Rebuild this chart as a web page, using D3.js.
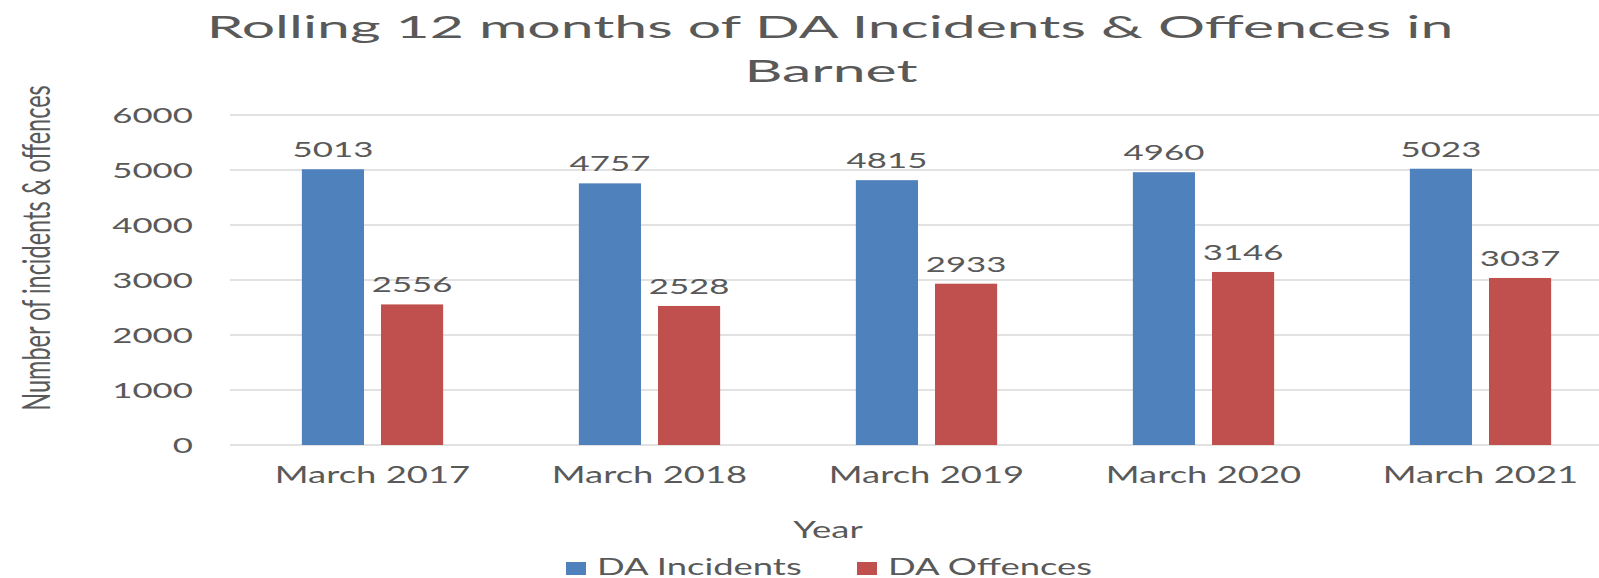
<!DOCTYPE html>
<html lang="en">
<head>
<meta charset="UTF-8">
<title>Rolling 12 months of DA Incidents & Offences in Barnet</title>
<script src="https://d3js.org/d3.v7.min.js"></script>
<style>
    body { margin: 0; background: #fff; }
    svg { display: block; }
    text { font-family: Lato, "Open Sans", sans-serif; fill: #595959; }
</style>
</head>
<body>
<script>
    // data
    var years = ["March 2017", "March 2018", "March 2019", "March 2020", "March 2021"];
    var seriesNames = ["DA Incidents", "DA Offences"];
    var incidents = [5013, 4757, 4815, 4960, 5023];
    var offences = [2556, 2528, 2933, 3146, 3037];
    var yTicks = [0, 1000, 2000, 3000, 4000, 5000, 6000];
    var colours = ["#4f81bd", "#c0504d"];

    var width = 1599, height = 578;
    // the source picture is stretched sideways, so text is widened too
    var SX = 1.62, SX_TITLE = 1.9;

    var rows = years.map(function(y, i) {
        return { year: y, values: [incidents[i], offences[i]] };
    });

    var svg = d3.select("body").append("svg")
        .attr("width", width)
        .attr("height", height);

    var x = d3.scaleBand()
        .domain(years)
        .range([234, 1619])
        .paddingInner(0.49)
        .paddingOuter(0.245);

    var x1 = d3.scaleBand()
        .domain(seriesNames)
        .range([0, x.bandwidth()])
        .paddingInner(0.215);

    var y = d3.scaleLinear()
        .domain([0, 6000])
        .range([445, 115]);

    // little helper: text widened around its anchor point
    function label(g, str, px, py, size, anchor, sx) {
        return g.append("text")
            .attr("transform", "translate(" + px + "," + py + ") scale(" + sx + ",1)")
            .attr("text-anchor", anchor)
            .style("font-size", size + "px")
            .text(str);
    }

    // gridlines
    svg.append("g").selectAll("line")
        .data(yTicks)
        .enter().append("line")
        .attr("x1", 230)
        .attr("x2", width)
        .attr("y1", function(d) { return y(d); })
        .attr("y2", function(d) { return y(d); })
        .attr("stroke", "#d9d9d9")
        .attr("stroke-width", 1.5);

    // y tick labels
    var yAxis = svg.append("g");
    yTicks.forEach(function(t) {
        label(yAxis, t, 193, y(t) + 7.5, 21.5, "end", SX);
    });

    // bars
    var groups = svg.append("g").selectAll("g")
        .data(rows)
        .enter().append("g")
        .attr("transform", function(d) { return "translate(" + x(d.year) + ",0)"; });

    groups.selectAll("rect")
        .data(function(d) { return d.values; })
        .enter().append("rect")
        .attr("x", function(d, i) { return x1(seriesNames[i]); })
        .attr("y", function(d) { return y(d); })
        .attr("width", x1.bandwidth())
        .attr("height", function(d) { return y(0) - y(d); })
        .attr("fill", function(d, i) { return colours[i]; });

    // value labels
    groups.each(function(d) {
        var g = d3.select(this);
        d.values.forEach(function(v, i) {
            label(g, v, x1(seriesNames[i]) + x1.bandwidth() / 2, y(v) - 12, 21.5, "middle", SX);
        });
    });

    // x labels
    var xAxis = svg.append("g");
    years.forEach(function(yr) {
        label(xAxis, yr, x(yr) + x.bandwidth() / 2, 483, 22.5, "middle", SX);
    });

    // titles
    label(svg, "Rolling 12 months of DA Incidents & Offences in", 830, 38, 31, "middle", SX_TITLE);
    label(svg, "Barnet", 831, 82, 31, "middle", SX_TITLE);
    label(svg, "Year", 828, 538, 22.5, "middle", SX);

    svg.append("text")
        .attr("transform", "translate(50,248) scale(" + SX + ",1) rotate(-90)")
        .attr("text-anchor", "middle")
        .style("font-size", "23.5px")
        .text("Number of incidents & offences");

    // legend
    var legendX = [566, 857];
    var legend = svg.append("g").selectAll("g")
        .data(seriesNames)
        .enter().append("g")
        .attr("transform", function(d, i) { return "translate(" + legendX[i] + ",0)"; });

    legend.append("rect")
        .attr("x", 0)
        .attr("y", 562)
        .attr("width", 20)
        .attr("height", 13)
        .attr("fill", function(d, i) { return colours[i]; });

    legend.each(function(d) {
        label(d3.select(this), d, 31, 575, 22.5, "start", SX);
    });
</script>
</body>
</html>
